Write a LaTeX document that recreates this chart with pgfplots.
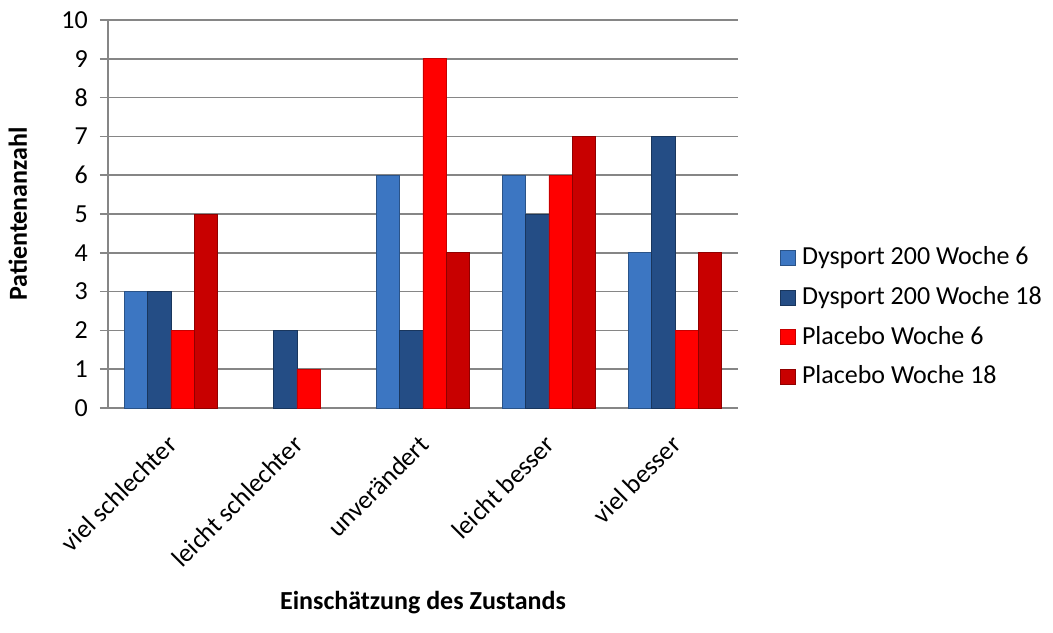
\documentclass[border=0pt]{standalone}
\usepackage{fontspec}
\setmainfont{Carlito}
\usepackage{pgfplots}
\pgfplotsset{compat=1.18}
\definecolor{dys6}{RGB}{60,118,194}
\definecolor{dys18}{RGB}{36,77,133}
\definecolor{pla6}{RGB}{255,0,0}
\definecolor{pla18}{RGB}{200,0,0}
\definecolor{gridgray}{RGB}{134,134,134}

% Werte: Kategorien 0..4 (viel schlechter ... viel besser)
\pgfplotstableread{
x d6 d18 p6 p18
0 3 3 2 5
1 0 2 1 0
2 6 2 9 4
3 6 5 6 7
4 4 7 2 4
}\patienten

\begin{document}
\fontsize{19.5pt}{23pt}\selectfont
\begin{tikzpicture}
\useasboundingbox (-81pt,-168pt) rectangle (708.75pt,306pt);
\begin{axis}[
    scale only axis,
    width=472.5pt, height=291pt,
    ybar=0pt, bar width=17.4pt,
    xmin=-0.5, xmax=4.5,
    ymin=0, ymax=10,
    ytick={0,1,...,10},
    xtick={0,1,2,3,4},
    xticklabels={viel schlechter, leicht schlechter, unverändert, leicht besser, viel besser},
    axis x line*=bottom, axis y line*=left,
    axis line style={gridgray, line width=1.1pt, -},
    ymajorgrids, major grid style={gridgray, line width=1.1pt},
    xtick style={draw=none},
    ytick style={gridgray, line width=1.1pt},
    tick align=outside, major tick length=6pt,
    /pgf/number format/assume math mode=true,
    ticklabel style={font=\fontsize{19.5pt}{23pt}\selectfont},
    yticklabel style={inner sep=0pt, xshift=-9pt},
    xticklabel style={xshift=-4pt, yshift=-13pt, rotate=45, anchor=north east, inner sep=0pt},
    xlabel={\bfseries Einschätzung des Zustands},
    ylabel={\bfseries Patientenanzahl},
    xlabel style={at={(axis description cs:0.5,-0.5026)}, anchor=center},
    ylabel style={at={(axis description cs:-0.143,0.5)}, anchor=center, rotate=0},
    label style={font=\fontsize{19.5pt}{23pt}\selectfont},
    legend style={at={(axis description cs:1.0667,0.234)}, anchor=west,
        draw=none, fill=none, row sep=11.2pt, inner sep=0pt,
        font=\fontsize{19.5pt}{23pt}\selectfont,
        nodes={inner sep=1pt},
        /tikz/every odd column/.append style={column sep=3.5pt}},
    legend cell align=left,
    legend image code/.code={\draw[#1] (1.5pt,-5.6pt) rectangle (12.7pt,5.6pt);},
    y filter/.expression={y==0 ? nan : y},
]
\addplot[fill=dys6, draw=dys6!70!black, line width=0.6pt] table[x=x,y=d6] {\patienten};
\addplot[fill=dys18, draw=dys18!70!black, line width=0.6pt] table[x=x,y=d18] {\patienten};
\addplot[fill=pla6, draw=pla6!78!black, line width=0.6pt] table[x=x,y=p6] {\patienten};
\addplot[fill=pla18, draw=pla18!72!black, line width=0.6pt] table[x=x,y=p18] {\patienten};
\legend{Dysport 200 Woche 6, Dysport 200 Woche 18, Placebo Woche 6, Placebo Woche 18}
\end{axis}
\end{tikzpicture}
\end{document}
